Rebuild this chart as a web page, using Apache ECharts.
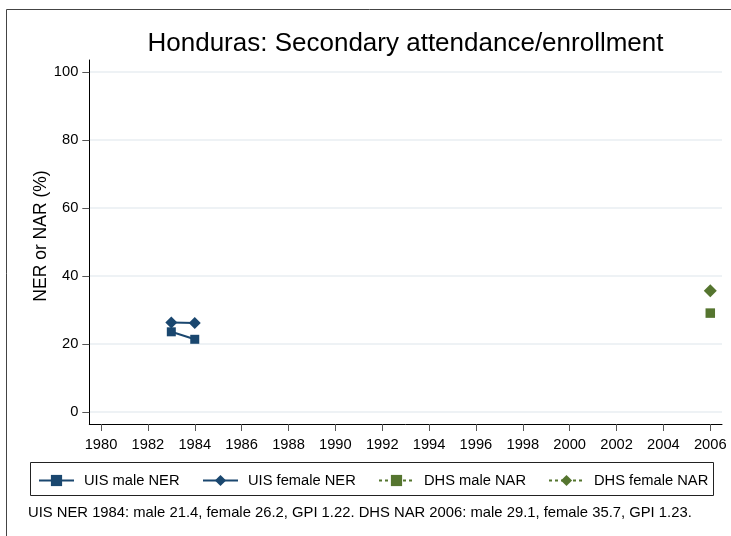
<!DOCTYPE html>
<html>
<head>
<meta charset="utf-8">
<title>Honduras: Secondary attendance/enrollment</title>
<script src="https://cdn.jsdelivr.net/npm/echarts@6/dist/echarts.min.js"></script>
<style>
  html, body { margin: 0; padding: 0; background: #fff; }
  #chart { width: 731px; height: 536px; }
</style>
</head>
<body>
<div id="chart"></div>
<script>
// data
const uisYears = [1983, 1984]
const uisMale = [23.6, 21.4]
const uisFemale = [26.3, 26.2]
const dhsYears = [2006]
const dhsMale = [29.1]
const dhsFemale = [35.7]
const xTicks = [1980, 1982, 1984, 1986, 1988, 1990, 1992, 1994, 1996, 1998, 2000, 2002, 2004, 2006]
const yTicks = [0, 20, 40, 60, 80, 100]
const seriesNames = ['UIS male NER', 'UIS female NER', 'DHS male NAR', 'DHS female NAR']
const footnote = 'UIS NER 1984: male 21.4, female 26.2, GPI 1.22. DHS NAR 2006: male 29.1, female 35.7, GPI 1.23.'

const navy = '#1a476f'
const green = '#55752f'
const font = "'Liberation Sans', Arial, sans-serif"

const pairs = (xs, ys) => xs.map((x, i) => [x, ys[i]])

// one legend per entry so the columns sit where Stata put them
const legendLefts = [38, 202, 378, 548]
const legends = seriesNames.map((name, i) => ({
  data: [name],
  left: legendLefts[i],
  top: 473,
  padding: 0,
  itemWidth: 35,
  itemHeight: 14,
  textStyle: { fontFamily: font, fontSize: 14.7, color: '#000', padding: [0, 0, 0, 5] }
}))

const chart = echarts.init(document.getElementById('chart'))

const option = {
  backgroundColor: '#fff',
  animation: false,
  title: {
    text: 'Honduras: Secondary attendance/enrollment',
    left: 400.5,
    textAlign: 'center',
    top: 26,
    textStyle: { fontFamily: font, fontSize: 26, fontWeight: 'normal', color: '#000' }
  },
  grid: { left: 89.3, right: 9, top: 60, bottom: 112 },
  legend: legends,
  xAxis: {
    type: 'value',
    min: 1979.5,
    max: 2006.5,
    axisLine: { show: true, onZero: false, lineStyle: { color: '#000', width: 1 } },
    axisTick: { show: true, length: 7, lineStyle: { color: '#555' }, customValues: xTicks },
    axisLabel: {
      customValues: xTicks,
      formatter: (v) => String(v),
      margin: 13,
      color: '#000',
      fontFamily: font,
      fontSize: 14.7
    },
    splitLine: { show: false }
  },
  yAxis: {
    type: 'value',
    min: -3.5,
    max: 103.5,
    name: 'NER or NAR (%)',
    nameLocation: 'middle',
    nameGap: 39,
    nameRotate: 90,
    nameMoveOverlap: false,
    nameTextStyle: { fontFamily: font, fontSize: 17.5, color: '#000', padding: [0, 0, 0, 12] },
    axisLine: { show: true, onZero: false, lineStyle: { color: '#000', width: 1 } },
    axisTick: { show: true, length: 7, lineStyle: { color: '#555' }, customValues: yTicks },
    axisLabel: { customValues: yTicks, margin: 11, color: '#000', fontFamily: font, fontSize: 14.7 },
    splitLine: { show: true, lineStyle: { color: '#e8eef2', width: 1.5 } }
  },
  graphic: [
    // outer frame
    { type: 'rect', silent: true, shape: { x: 6.5, y: 9.5, width: 800, height: 600 },
      style: { fill: null, stroke: '#444', lineWidth: 1 } },
    // legend box
    { type: 'rect', silent: true, shape: { x: 30.5, y: 462.5, width: 683, height: 33 },
      style: { fill: null, stroke: '#222', lineWidth: 1 } },
    // note under the legend
    { type: 'text', silent: true, left: 28, top: 505,
      style: { text: footnote, fontFamily: font, fontSize: 14.8, fill: '#000' } }
  ],
  series: [
    {
      name: seriesNames[0],
      type: 'line',
      data: pairs(uisYears, uisMale),
      symbol: 'rect',
      symbolSize: 9,
      lineStyle: { color: navy, width: 2 },
      itemStyle: { color: navy }
    },
    {
      name: seriesNames[1],
      type: 'line',
      data: pairs(uisYears, uisFemale),
      symbol: 'diamond',
      symbolSize: 12,
      lineStyle: { color: navy, width: 2 },
      itemStyle: { color: navy }
    },
    {
      name: seriesNames[2],
      type: 'line',
      data: pairs(dhsYears, dhsMale),
      symbol: 'rect',
      symbolSize: 9.5,
      lineStyle: { color: green, width: 1.5, type: [3, 3] },
      itemStyle: { color: green }
    },
    {
      name: seriesNames[3],
      type: 'line',
      data: pairs(dhsYears, dhsFemale),
      symbol: 'diamond',
      symbolSize: 13,
      lineStyle: { color: green, width: 1.5, type: [3, 3] },
      itemStyle: { color: green }
    }
  ]
}

chart.setOption(option)
</script>
</body>
</html>
